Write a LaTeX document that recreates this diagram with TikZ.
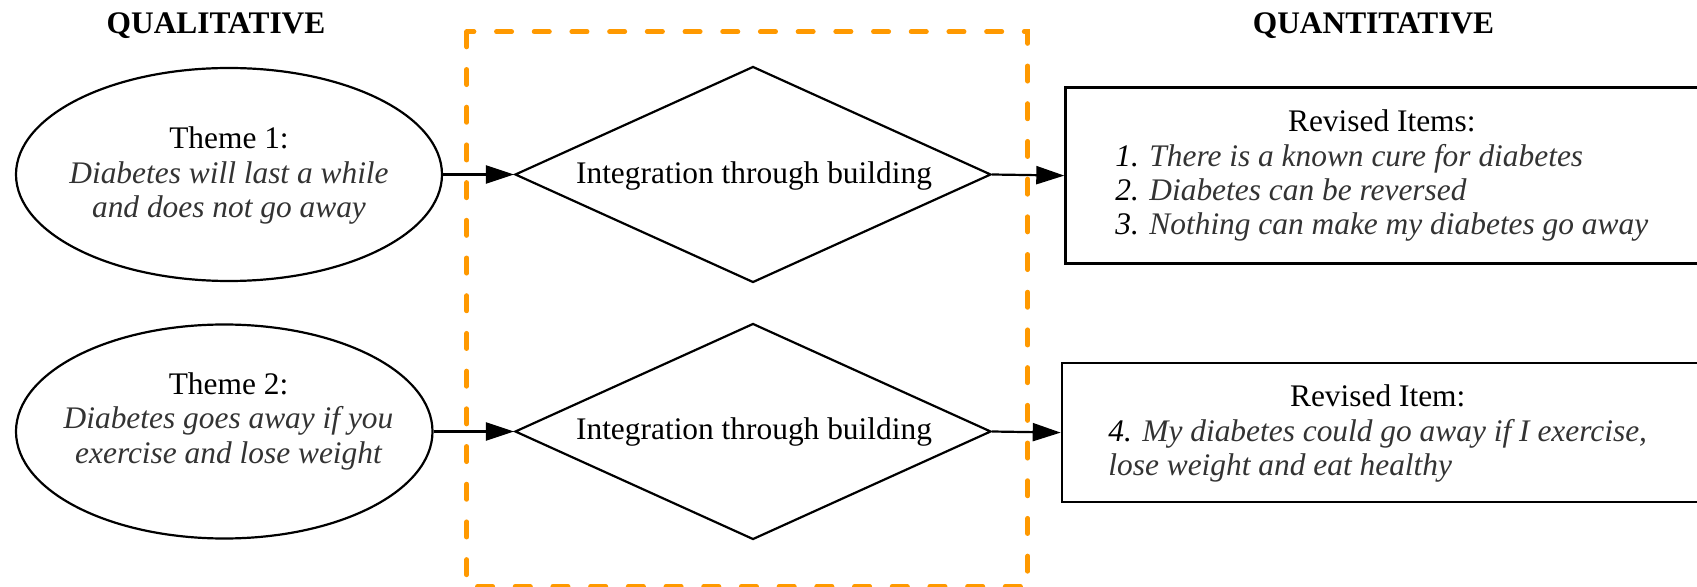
\documentclass[tikz,border=0pt]{standalone}
\usepackage{fontspec}
\setmainfont{Liberation Serif}
\usetikzlibrary{shapes.geometric,arrows.meta}
\definecolor{notegray}{HTML}{333333}
\definecolor{frameorange}{HTML}{FF9900}
\newcommand\diagfont{\fontsize{15.7}{17.2}\selectfont}
\newcommand\note[1]{\textit{\color{notegray}#1}}
\begin{document}
\begin{tikzpicture}[x=0.5pt,y=-0.5pt,
  txt/.style={font=\diagfont, inner sep=0pt},
  head/.style={font=\diagfont\bfseries, inner sep=0pt, anchor=base},
  theme/.style={draw, ellipse, line width=1.1pt, inner sep=0pt},
  junction/.style={draw, diamond, line width=1.1pt, inner sep=0pt,
                   minimum width=238pt, minimum height=108pt},
  itembox/.style={draw, rectangle, line width=1.1pt, inner sep=0pt, anchor=north west},
  flow/.style={line width=1.1pt, -{Triangle[length=14pt,width=9pt]}},
  frame/.style={draw=frameorange, line width=2.35pt, line cap=round,
                dash pattern=on 7.65pt off 11.2pt}
]
\useasboundingbox (0,0) rectangle (1697,587);
\clip (0,0) rectangle (1697,587);

% column headings
\node[head] (qual) at (216,33.3) {QUALITATIVE};
\node[head] (quant) at (1373.5,33.3) {QUANTITATIVE};

% qualitative themes
\node[theme, minimum width=213pt, minimum height=106.5pt] (e1) at (229,174.5) {};
\node[txt] (e1text) at (229,176.5) {\begin{tabular}{@{}c@{}}Theme 1:\\
  \note{Diabetes will last a while}\\ \note{and does not go away}\end{tabular}};

\node[theme, minimum width=208.25pt, minimum height=107pt] (e2) at (224.25,431.5) {};
\node[txt] (e2text) at (228.5,421.8) {\begin{tabular}{@{}c@{}}Theme 2:\\
  \note{Diabetes goes away if you}\\ \note{exercise and lose weight}\end{tabular}};

% integration steps
\node[junction] (d1) at (753,174.5) {};
\node[txt, anchor=base] (d1text) at (754,183.3) {Integration through building};
\node[junction] (d2) at (753,431.5) {};
\node[txt, anchor=base] (d2text) at (754,440) {Integration through building};

% revised survey items
\node[itembox, minimum width=330pt, minimum height=88pt] (r1) at (1064.3,86.5) {};
\node[txt, anchor=west] (r1text) at (1115,176.4) {\begin{tabular}{@{}l@{}}
  \multicolumn{1}{@{}c@{}}{Revised Items:}\\
  \textit{1.} \note{There is a known cure for diabetes}\\
  \textit{2.} \note{Diabetes can be reversed}\\
  \textit{3.} \note{Nothing can make my diabetes go away}\end{tabular}};

\node[itembox, minimum width=330pt, minimum height=69.2pt] (r2) at (1060.7,362.3) {};
\node[txt, anchor=west] (r2text) at (1108,434.2) {\begin{tabular}{@{}l@{}}
  \multicolumn{1}{@{}c@{}}{Revised Item:}\\
  \textit{4.} \note{My diabetes could go away if I exercise,}\\
  \note{lose weight and eat healthy}\end{tabular}};

% connectors
\draw[flow] (e1.east) -- (d1.west);
\draw[flow] (d1.east) -- (r1.west);
\draw[flow] (e2.east) -- (d2.west);
\draw[flow] (d2.east) -- (r2.west);

% integration frame
\draw[frame] (466.7,31.7) rectangle (1027.7,586.5);
\end{tikzpicture}
\end{document}
